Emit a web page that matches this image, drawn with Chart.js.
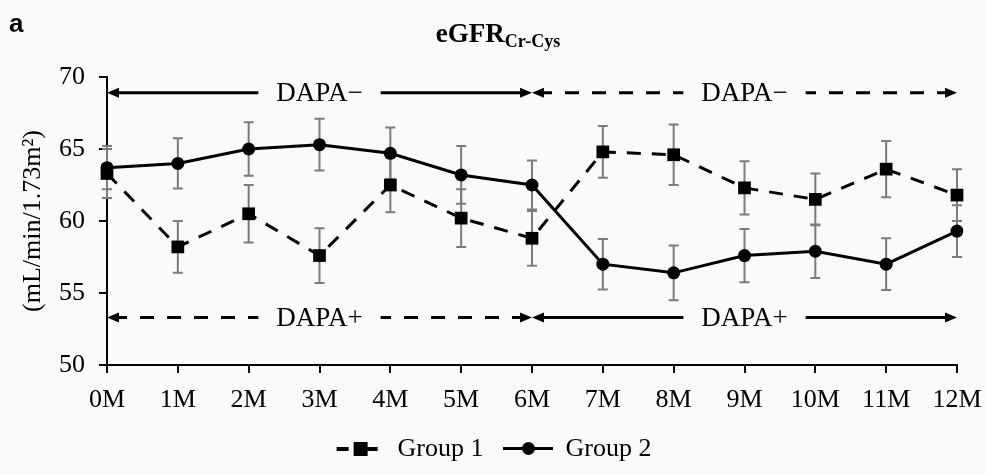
<!DOCTYPE html>
<html>
<head>
<meta charset="utf-8">
<script src="https://cdn.jsdelivr.net/npm/chart.js@4.4.7/dist/chart.umd.min.js"></script>
<style>
  html, body { margin: 0; padding: 0; background: #fafafa; }
  #wrap { width: 986px; height: 475px; position: relative; }
</style>
</head>
<body>
<div id="wrap"><canvas id="chart"></canvas></div>
<script>
var months = ['0M', '1M', '2M', '3M', '4M', '5M', '6M', '7M', '8M', '9M', '10M', '11M', '12M'];
var group1 = [63.3, 58.2, 60.5, 57.6, 62.5, 60.2, 58.8, 64.8, 64.6, 62.3, 61.5, 63.6, 61.8];
var group1Err = [1.7, 1.8, 2.0, 1.9, 1.9, 2.0, 1.9, 1.8, 2.1, 1.85, 1.8, 1.95, 1.8];
var group2 = [63.7, 64.0, 65.0, 65.3, 64.7, 63.2, 62.5, 57.0, 56.4, 57.6, 57.9, 57.0, 59.3];
var group2Err = [1.5, 1.75, 1.85, 1.8, 1.8, 2.0, 1.7, 1.75, 1.9, 1.85, 1.85, 1.8, 1.8];
var yTicks = [50, 55, 60, 65, 70];
var phaseFrom = [0, 6];
var phaseTo = [6, 12];
var upperLabel = 'DAPA−';
var lowerLabel = 'DAPA+';

var SERIF = '"Liberation Serif", "Times New Roman", serif';

// legend markers: line + point, like the original figure
function legendMarker(dashed) {
  var c = document.createElement('canvas');
  c.width = 50; c.height = 20;
  var g = c.getContext('2d');
  g.fillStyle = '#000';
  if (dashed) {
    g.fillRect(2, 8, 12, 4);
    g.fillRect(19, 3, 14, 14);
    g.fillRect(33, 8, 10, 4);
  } else {
    g.fillRect(0, 8, 50, 3);
    g.beginPath();
    g.arc(26, 9.5, 6.5, 0, Math.PI * 2);
    g.fill();
  }
  return c;
}

var errorBars = {
  id: 'errorBars',
  beforeDatasetsDraw: function (chart) {
    var ctx = chart.ctx, xs = chart.scales.x, ys = chart.scales.y;
    var sets = [[group1, group1Err], [group2, group2Err]];
    ctx.save();
    ctx.strokeStyle = '#7c7c7c';
    ctx.lineWidth = 2;
    sets.forEach(function (s) {
      s[0].forEach(function (v, i) {
        var px = xs.getPixelForValue(i);
        var top = ys.getPixelForValue(v + s[1][i]);
        var bot = ys.getPixelForValue(v - s[1][i]);
        ctx.beginPath();
        ctx.moveTo(px, top); ctx.lineTo(px, bot);
        ctx.moveTo(px - 5, top); ctx.lineTo(px + 5, top);
        ctx.moveTo(px - 5, bot); ctx.lineTo(px + 5, bot);
        ctx.stroke();
      });
    });
    ctx.restore();
  }
};

function arrowHead(ctx, x, y, dir) {
  ctx.beginPath();
  ctx.moveTo(x, y);
  ctx.lineTo(x - dir * 12, y - 5);
  ctx.lineTo(x - dir * 12, y + 5);
  ctx.closePath();
  ctx.fill();
}

function phaseArrow(ctx, x1, x2, y, label, dashed) {
  ctx.save();
  ctx.font = '27px ' + SERIF;
  ctx.fillStyle = '#000';
  ctx.strokeStyle = '#000';
  ctx.lineWidth = 3;
  var tw = ctx.measureText(label).width;
  var mid = (x1 + x2) / 2, gap = 18;
  ctx.setLineDash(dashed ? [14, 13] : []);
  ctx.beginPath();
  ctx.moveTo(x1 + 6, y); ctx.lineTo(mid - tw / 2 - gap, y);
  ctx.moveTo(x2 - 6, y); ctx.lineTo(mid + tw / 2 + gap, y);
  ctx.stroke();
  ctx.setLineDash([]);
  arrowHead(ctx, x1, y, -1);
  arrowHead(ctx, x2, y, 1);
  ctx.textAlign = 'center';
  ctx.textBaseline = 'middle';
  ctx.fillText(label, mid, y + 1);
  ctx.restore();
}

var phases = {
  id: 'phases',
  afterDatasetsDraw: function (chart) {
    var ctx = chart.ctx, xs = chart.scales.x, ys = chart.scales.y;
    var yUp = ys.getPixelForValue(68.9);
    var yLow = ys.getPixelForValue(53.3);
    for (var i = 0; i < phaseFrom.length; i++) {
      var a = xs.getPixelForValue(phaseFrom[i]);
      var b = xs.getPixelForValue(phaseTo[i]);
      phaseArrow(ctx, a, b, yUp, upperLabel, i === 1);
      phaseArrow(ctx, a, b, yLow, lowerLabel, i === 0);
    }
  }
};

var heading = {
  id: 'heading',
  afterDraw: function (chart) {
    var ctx = chart.ctx;
    ctx.save();
    ctx.fillStyle = '#000';
    ctx.textBaseline = 'alphabetic';
    ctx.font = 'bold 26px "Liberation Sans", Arial, sans-serif';
    ctx.fillText('a', 9, 32);
    var main = 'eGFR', sub = 'Cr-Cys';
    ctx.font = 'bold 27px ' + SERIF;
    var w1 = ctx.measureText(main).width;
    ctx.font = 'bold 18px ' + SERIF;
    var w2 = ctx.measureText(sub).width;
    var x0 = 498 - (w1 + w2) / 2;
    ctx.font = 'bold 27px ' + SERIF;
    ctx.fillText(main, x0, 42);
    ctx.font = 'bold 18px ' + SERIF;
    ctx.fillText(sub, x0 + w1, 47);
    ctx.restore();
  }
};

new Chart(document.getElementById('chart'), {
  type: 'line',
  data: {
    labels: months,
    datasets: [
      {
        label: 'Group 1',
        data: group1,
        borderColor: '#000',
        backgroundColor: '#000',
        borderWidth: 3,
        borderDash: [14, 11],
        tension: 0,
        pointStyle: 'rect',
        pointRadius: 9,
        pointBackgroundColor: '#000',
        pointBorderWidth: 0
      },
      {
        label: 'Group 2',
        data: group2,
        borderColor: '#000',
        backgroundColor: '#000',
        borderWidth: 3,
        tension: 0,
        pointStyle: 'circle',
        pointRadius: 6.5,
        pointBackgroundColor: '#000',
        pointBorderWidth: 0
      }
    ]
  },
  options: {
    responsive: true,
    maintainAspectRatio: false,
    animation: false,
    layout: { padding: { left: 0, right: 0, top: 77, bottom: 3 } },
    plugins: {
      tooltip: { enabled: false },
      legend: {
        position: 'bottom',
        labels: {
          usePointStyle: true,
          pointStyleWidth: 50,
          padding: 19,
          color: '#000',
          font: { family: SERIF, size: 26 },
          generateLabels: function (chart) {
            return chart.data.datasets.map(function (ds, i) {
              return {
                text: ds.label,
                pointStyle: legendMarker(i === 0),
                fillStyle: '#000',
                strokeStyle: '#000',
                lineWidth: 0,
                fontColor: '#000',
                datasetIndex: i
              };
            });
          }
        }
      }
    },
    scales: {
      x: {
        grid: { display: true, drawOnChartArea: false, color: '#000', lineWidth: 2, tickLength: 8 },
        border: { color: '#000', width: 2 },
        ticks: { color: '#000', font: { family: SERIF, size: 26 }, padding: 12, maxRotation: 0, autoSkip: false },
        afterFit: function (s) { s.height = 52; s.paddingRight = 29; }
      },
      y: {
        min: 50,
        max: 70,
        afterBuildTicks: function (s) { s.ticks = yTicks.map(function (v) { return { value: v }; }); },
        grid: { display: true, drawOnChartArea: false, color: '#000', lineWidth: 2, tickLength: 8 },
        border: { color: '#000', width: 2 },
        ticks: { color: '#000', font: { family: SERIF, size: 26 }, padding: 14 },
        title: {
          display: true,
          text: '(mL/min/1.73m²)',
          color: '#000',
          font: { family: SERIF, size: 26 },
          padding: { top: 18, bottom: 0 }
        },
        afterFit: function (s) { s.width = 107; }
      }
    }
  },
  plugins: [errorBars, phases, heading]
});
</script>
</body>
</html>
